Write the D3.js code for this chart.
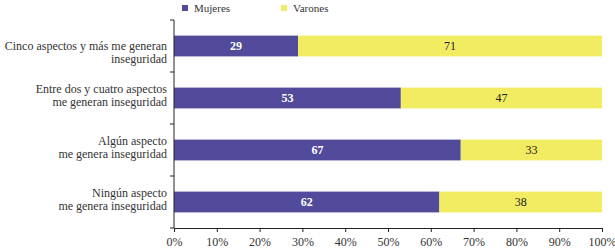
<!DOCTYPE html>
<html>
<head>
<meta charset="utf-8">
<script src="https://cdn.jsdelivr.net/npm/d3@7"></script>
<style>
  body { margin: 0; background: #fff; }
</style>
</head>
<body>
<div id="chart"></div>
<script>
// categorias (de arriba a abajo)
const categories = [
  ["Cinco aspectos y más me generan", "inseguridad"],
  ["Entre dos y cuatro aspectos", "me generan inseguridad"],
  ["Algún aspecto", "me genera inseguridad"],
  ["Ningún aspecto", "me genera inseguridad"]
];
const mujeres = [29, 53, 67, 62];
const varones = [71, 47, 33, 38];
const seriesNames = ["Mujeres", "Varones"];
const colors = ["#524a9b", "#f2ec62"];
const ticks = [0, 10, 20, 30, 40, 50, 60, 70, 80, 90, 100];

const FONT = "'Liberation Serif', 'DejaVu Serif', serif";
const width = 615, height = 252;
const margin = { top: 20, right: 13, bottom: 24, left: 174 };

const svg = d3.select("#chart").append("svg")
  .attr("width", width)
  .attr("height", height)
  .attr("font-family", FONT);

const x = d3.scaleLinear().domain([0, 100]).range([margin.left, width - margin.right]);
const y = d3.scaleBand()
  .domain(d3.range(categories.length))
  .range([margin.top, height - margin.bottom])
  .paddingInner(0.6)
  .paddingOuter(0.3);

const rows = categories.map((c, i) => ({ i, m: mujeres[i], v: varones[i] }));

// barras
const g = svg.append("g");
rows.forEach(r => {
  g.append("rect")
    .attr("x", x(0)).attr("y", y(r.i))
    .attr("width", x(r.m) - x(0)).attr("height", y.bandwidth())
    .attr("fill", colors[0]);
  g.append("rect")
    .attr("x", x(r.m)).attr("y", y(r.i))
    .attr("width", x(r.m + r.v) - x(r.m)).attr("height", y.bandwidth())
    .attr("fill", colors[1]);
  g.append("text")
    .attr("x", (x(0) + x(r.m)) / 2).attr("y", y(r.i) + y.bandwidth() / 2)
    .attr("dy", "0.36em").attr("text-anchor", "middle")
    .attr("font-family", FONT)
    .attr("font-size", 12).attr("fill", "#fff").attr("font-weight", "bold")
    .text(r.m);
  g.append("text")
    .attr("x", (x(r.m) + x(100)) / 2).attr("y", y(r.i) + y.bandwidth() / 2)
    .attr("dy", "0.36em").attr("text-anchor", "middle")
    .attr("font-family", FONT)
    .attr("font-size", 12).attr("fill", "#222")
    .text(r.v);
});

// eje x
const xAxis = svg.append("g")
  .attr("transform", `translate(0,${height - margin.bottom})`)
  .call(d3.axisBottom(x).tickValues(ticks).tickFormat(d => d + "%").tickSize(4).tickSizeOuter(0));
xAxis.attr("font-family", FONT);
xAxis.select(".domain").attr("stroke", "#222");
xAxis.selectAll(".tick line").attr("stroke", "#222");
xAxis.selectAll(".tick text").attr("font-family", FONT)
  .attr("font-size", 12).attr("fill", "#333").attr("dy", "0.9em");

// eje y con marcas entre categorias
const yLine = svg.append("g");
yLine.append("line")
  .attr("x1", x(0)).attr("x2", x(0))
  .attr("y1", margin.top).attr("y2", height - margin.bottom)
  .attr("stroke", "#222");
d3.range(categories.length + 1).forEach(k => {
  const yy = margin.top + k * (height - margin.top - margin.bottom) / categories.length;
  yLine.append("line")
    .attr("x1", x(0) - 4).attr("x2", x(0))
    .attr("y1", yy).attr("y2", yy)
    .attr("stroke", "#222");
});

// etiquetas de categoria (la primera va algo más abajo, como en el original)
rows.forEach(r => {
  const base = y(r.i) + y.bandwidth() / 2 - 5 + (r.i === 0 ? 9 : 0);
  const t = svg.append("text")
    .attr("x", x(0) - 7)
    .attr("y", base)
    .attr("text-anchor", "end")
    .attr("font-family", FONT)
    .attr("font-size", 12).attr("fill", "#333");
  categories[r.i].forEach((line, j) => {
    t.append("tspan").attr("x", x(0) - 7)
      .attr("dy", j === 0 ? 0 : 12.5)
      .text(line);
  });
});

// leyenda
const legendX = [182, 281];
seriesNames.forEach((name, i) => {
  const lg = svg.append("g").attr("transform", `translate(${legendX[i]},4)`);
  lg.append("rect").attr("width", 6).attr("height", 6).attr("y", 1).attr("fill", colors[i]);
  lg.append("text").attr("x", 12).attr("y", 7).attr("dy", "0.1em")
    .attr("font-family", FONT)
    .attr("font-size", 11).attr("fill", "#333").text(name);
});
</script>
</body>
</html>
